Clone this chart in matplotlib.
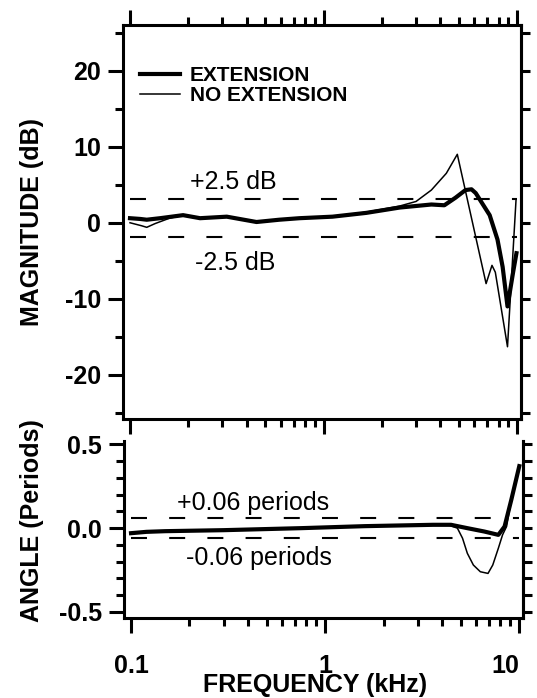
import matplotlib
matplotlib.use("Agg")
import matplotlib.pyplot as plt
from matplotlib.ticker import FixedLocator, FixedFormatter, MultipleLocator, NullFormatter, LogLocator

plt.rcParams['font.family'] = ['Liberation Sans', 'DejaVu Sans']
plt.rcParams['font.weight'] = 'bold'
plt.rcParams['axes.labelweight'] = 'bold'
plt.rcParams['axes.unicode_minus'] = False
plt.rcParams['lines.scale_dashes'] = False

# Magnitude response (kHz, dB)
freq_mag_ext = [0.1, 0.113, 0.122, 0.143, 0.188, 0.23, 0.316, 0.45, 0.59, 0.75, 1.11, 1.66,
                2.47, 3.6, 4.2, 4.8, 5.4, 5.8, 6.1, 7.2, 7.9, 8.4, 8.9, 9.5, 9.9]
mag_ext = [0.6, 0.5, 0.4, 0.6, 1.0, 0.6, 0.8, 0.1, 0.4, 0.6, 0.8, 1.3,
           2.0, 2.4, 2.3, 3.3, 4.3, 4.4, 3.9, 1.0, -2.2, -5.8, -11.0, -6.6, -4.0]

freq_mag_noext = [0.1, 0.115, 0.122, 0.135, 0.16, 0.188, 0.23, 0.316, 0.45, 0.59, 0.75, 1.11,
                  1.66, 2.47, 3.0, 3.6, 4.3, 4.9, 6.9, 7.4, 7.7, 8.9, 9.85]
mag_noext = [0.0, -0.4, -0.6, -0.1, 0.6, 1.0, 0.6, 0.8, 0.1, 0.4, 0.6, 0.8,
             1.4, 2.2, 2.8, 4.3, 6.5, 9.0, -8.0, -5.6, -6.5, -16.3, 3.0]

# Phase response (kHz, periods)
freq_ang_ext = [0.1, 0.12, 0.15, 0.3, 0.75, 1.6, 3.6, 4.45, 5.4, 6.6, 7.8, 8.4, 9.1, 10.0]
ang_ext = [-0.03, -0.022, -0.018, -0.012, 0.0, 0.012, 0.02, 0.02, 0.0, -0.02, -0.04, 0.01, 0.17, 0.37]

freq_ang_noext = [0.1, 0.12, 0.15, 0.3, 0.75, 1.6, 3.6, 4.3, 4.8, 5.1, 5.4, 5.8, 6.3, 6.9,
                  7.3, 7.8, 8.2, 8.6, 9.1, 10.0]
ang_noext = [-0.03, -0.022, -0.018, -0.012, 0.0, 0.012, 0.02, 0.02, 0.0, -0.06, -0.15, -0.22,
             -0.26, -0.27, -0.22, -0.12, -0.04, 0.01, 0.17, 0.37]

# Tolerance bands
mag_level = 0.6
mag_tol = 2.5
ang_level = 0.0
ang_tol = 0.06

mag_ticks = [-20, -10, 0, 10, 20]
mag_labels = ['-20', '-10', '0', '10', '20']
ang_ticks = [-0.5, 0.0, 0.5]
ang_labels = ['-0.5', '0.0', '0.5']
freq_ticks = [0.1, 1, 10]
freq_labels = ['0.1', '1', '10']

W, H = 537, 698
fig = plt.figure(figsize=(W / 100, H / 100), dpi=100)
ax1 = fig.add_axes([123 / W, 1 - 419 / H, 398 / W, 394 / H])
ax2 = fig.add_axes([124 / W, 1 - 618 / H, 399 / W, 177 / H])

thick = dict(color='black', lw=3.0, solid_joinstyle='round')
thin = dict(color='black', lw=1.1)
dash = dict(color='black', lw=1.5, dashes=(11.5, 16))

xlim = (0.092, 10.45)

# ---- magnitude panel ----
ax1.plot(freq_mag_ext, mag_ext, label='EXTENSION', **thick)
ax1.plot(freq_mag_noext, mag_noext, label='NO EXTENSION', **thin)
ax1.plot([0.1, 10], [mag_level + mag_tol] * 2, **dash)
ax1.plot([0.1, 10], [mag_level - mag_tol] * 2, **dash)
ax1.text(0.343, 5.3, '+2.5 dB', fontsize=18, fontweight='normal', ha='center', va='center')
ax1.text(0.35, -5.3, '-2.5 dB', fontsize=18, fontweight='normal', ha='center', va='center')

ax1.set_xscale('log')
ax1.set_xlim(*xlim)
ax1.set_ylim(-25.8, 26.0)
ax1.yaxis.set_major_locator(FixedLocator(mag_ticks))
ax1.yaxis.set_major_formatter(FixedFormatter(mag_labels))
ax1.yaxis.set_minor_locator(MultipleLocator(5))
ax1.set_ylabel('MAGNITUDE (dB)', fontsize=18, fontweight='bold', va='center')
ax1.yaxis.set_label_coords(-0.228, 0.5)

ax1.legend(loc='upper left', bbox_to_anchor=(0.043, 0.895), frameon=False,
           fontsize=15, handlelength=1.9, handletextpad=0.5, labelspacing=0.04,
           borderaxespad=0, borderpad=0)

# ---- phase panel ----
ax2.plot(freq_ang_ext, ang_ext, **thick)
ax2.plot(freq_ang_noext, ang_noext, **thin)
ax2.plot([0.1, 10], [ang_level + ang_tol] * 2, **dash)
ax2.plot([0.1, 10], [ang_level - ang_tol] * 2, **dash)
ax2.text(0.425, 0.15, '+0.06 periods', fontsize=18, fontweight='normal', ha='center', va='center')
ax2.text(0.457, -0.18, '-0.06 periods', fontsize=18, fontweight='normal', ha='center', va='center')

ax2.set_xscale('log')
ax2.set_xlim(*xlim)
ax2.set_ylim(-0.536, 0.52)
ax2.yaxis.set_major_locator(FixedLocator(ang_ticks))
ax2.yaxis.set_major_formatter(FixedFormatter(ang_labels))
ax2.yaxis.set_minor_locator(MultipleLocator(0.1))
ax2.set_ylabel('ANGLE (Periods)', fontsize=18, fontweight='bold', va='center')
ax2.yaxis.set_label_coords(-0.23, 0.55)
ax2.set_xlabel('FREQUENCY (kHz)', fontsize=18, fontweight='bold', va='baseline')
ax2.xaxis.set_label_coords(0.479, -0.42)
ax2.spines['top'].set_visible(False)

for ax, yt, ym in ((ax1, mag_ticks, 5), (ax2, ang_ticks, 0.1)):
    ax.xaxis.set_major_locator(FixedLocator(freq_ticks))
    ax.xaxis.set_major_formatter(FixedFormatter(freq_labels))
    ax.xaxis.set_minor_locator(LogLocator(base=10, subs=range(2, 10)))
    ax.xaxis.set_minor_formatter(NullFormatter())
    for s in ax.spines.values():
        s.set_linewidth(2.2)
    ax.tick_params(which='major', direction='out', length=11, width=2.2, labelsize=18)
    ax.tick_params(which='minor', direction='out', length=6, width=2.2)
    ax.tick_params(axis='y', which='both', pad=5, right=False)
    # right-hand scale with short outward ticks
    sec = ax.secondary_yaxis('right')
    sec.yaxis.set_major_locator(FixedLocator(yt))
    sec.yaxis.set_minor_locator(MultipleLocator(ym))
    sec.tick_params(which='both', direction='out', length=6.5, width=2.2, labelright=False)
    sec.spines['right'].set_linewidth(2.2)

ax1.tick_params(axis='x', which='both', top=True, bottom=True, labelbottom=False)
ax2.tick_params(axis='x', which='both', top=False, bottom=True, pad=15)
ax2.xaxis.get_major_ticks()[-1].label1.set_horizontalalignment('right')

fig.savefig('out.png', dpi=100)
